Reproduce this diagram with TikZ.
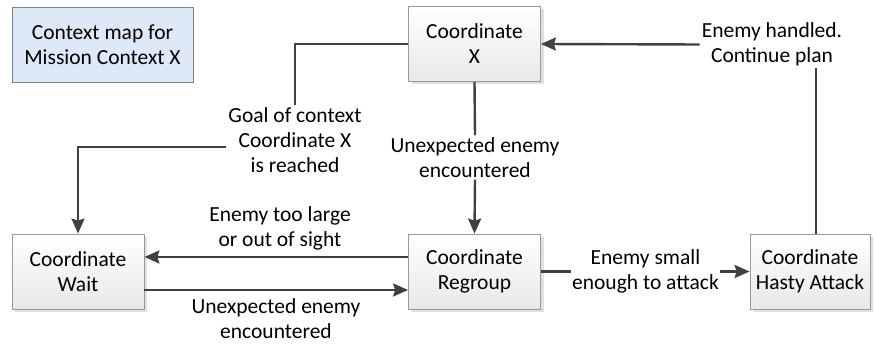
\documentclass[tikz,border=0pt]{standalone}
\usepackage{fontspec}
\setmainfont{Carlito}
\usetikzlibrary{arrows.meta,shadows}
\definecolor{ctxblue}{RGB}{221,233,246}
\definecolor{linegray}{RGB}{64,64,64}
\begin{document}
\begin{tikzpicture}[x=1pt, y=-1pt, font=\fontsize{21.5}{25}\selectfont,
    state/.style={draw=black!40, line width=0.8pt, top color=white, bottom color=black!9,
        align=center, minimum width=132pt, minimum height=75pt,
        drop shadow={shadow xshift=3pt, shadow yshift=-3pt, fill=black!12, opacity=1}},
    lbl/.style={align=center, inner sep=2pt},
    wire/.style={draw=linegray, line width=2.4pt},
    flow/.style={wire, -{Stealth[length=15pt, width=13pt, inset=2pt]}}]
        \useasboundingbox (0,0) rectangle (876,344);

        % context title
        \node[draw=black!50, line width=0.8pt, fill=ctxblue, align=center,
        minimum width=181pt, minimum height=75pt]
        (ctx) at (102.5,44.5) {Context map for\\Mission Context X};

        % states
        \node[state] (cx) at (474.5,44) {Coordinate\\X};
        \node[state] (wait) at (78,271.5) {Coordinate\\Wait};
        \node[state] (regroup) at (474.5,271.5) {Coordinate\\Regroup};
        \node[state, minimum width=120pt] (hasty) at (810,271.5) {Coordinate\\Hasty Attack};

        % transition labels
        \node[lbl] (goal) at (295,140) {Goal of context\\Coordinate X\\is reached};
        \node[lbl] (meet) at (475,157.5) {Unexpected enemy\\encountered};
        \node[lbl] (large) at (280,228) {Enemy too large\\or out of sight};
        \node[lbl] (back) at (276,319) {Unexpected enemy\\encountered};
        \node[lbl, inner sep=1pt] (small) at (645.5,271.5) {Enemy small\\enough to attack};
        \node[lbl] (done) at (772,44.5) {Enemy handled.\\Continue plan};

        % transitions
        \draw[wire] (cx.west) -| (goal.north);
        \draw[flow] ([yshift=-7pt]goal.west) -| (wait.north);
        \draw[wire] (cx.south) -- (meet.north);
        \draw[flow] (meet.south) -- (regroup.north);
        \draw[flow] ([yshift=14.5pt]regroup.west) -- ([yshift=14.5pt]wait.east);
        \draw[flow] ([yshift=-18.5pt]wait.east) -- ([yshift=-18.5pt]regroup.west);
        \draw[wire] (regroup.east) -- (small.west);
        \draw[flow] (small.east) -- (hasty.west);
        \draw[wire] ([xshift=6pt]hasty.north) -- ([xshift=6pt]hasty.north |- done.south);
        \draw[flow] (done.west) -- (cx.east);
    \end{tikzpicture}
\end{document}
